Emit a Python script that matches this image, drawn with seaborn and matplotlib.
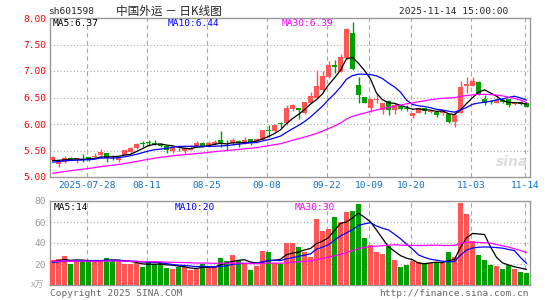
import numpy as np
import pandas as pd
import matplotlib
matplotlib.use("Agg")
import matplotlib.pyplot as plt
import seaborn as sns

# ---- 数据 (从图上读出来的) ----
tick_pos = [6, 16, 26, 36, 46, 53, 60, 70, 79]
tick_labels = ["2025-07-28", "08-11", "08-25", "09-08", "09-22", "10-09", "10-20", "11-03", "11-14"]

opens = [5.32, 5.25, 5.29, 5.36, 5.32, 5.34, 5.37, 5.37, 5.41, 5.45,
         5.36, 5.32, 5.42, 5.48, 5.54, 5.64, 5.66, 5.65, 5.63, 5.59,
         5.50, 5.53, 5.50, 5.51, 5.59, 5.65, 5.59, 5.62, 5.69, 5.60,
         5.64, 5.67, 5.65, 5.71, 5.67, 5.70, 5.88, 5.87, 6.01, 6.01,
         6.28, 6.31, 6.20, 6.39, 6.50, 6.64, 6.89, 7.11, 6.99, 7.24,
         7.71, 6.74, 6.50, 6.30, 6.46, 6.26, 6.43, 6.26, 6.34, 6.31,
         6.15, 6.21, 6.31, 6.22, 6.23, 6.21, 6.18, 6.04, 6.21, 6.72,
         6.72, 6.80, 6.47, 6.43, 6.40, 6.46, 6.47, 6.37, 6.41, 6.39]
closes = [5.38, 5.29, 5.35, 5.34, 5.35, 5.33, 5.33, 5.39, 5.48, 5.36,
          5.35, 5.37, 5.51, 5.55, 5.62, 5.63, 5.65, 5.63, 5.59, 5.51,
          5.56, 5.52, 5.54, 5.54, 5.65, 5.59, 5.64, 5.66, 5.64, 5.59,
          5.69, 5.64, 5.70, 5.65, 5.71, 5.89, 5.87, 5.98, 6.00, 6.30,
          6.36, 6.27, 6.42, 6.53, 6.72, 6.91, 7.11, 7.07, 7.27, 7.80,
          7.03, 6.55, 6.40, 6.47, 6.47, 6.40, 6.26, 6.35, 6.28, 6.29,
          6.21, 6.31, 6.25, 6.25, 6.17, 6.26, 6.04, 6.17, 6.70, 6.75,
          6.82, 6.55, 6.40, 6.41, 6.45, 6.42, 6.35, 6.39, 6.38, 6.33]
highs = [5.40, 5.30, 5.40, 5.38, 5.35, 5.43, 5.38, 5.45, 5.52, 5.46,
         5.41, 5.37, 5.52, 5.57, 5.65, 5.68, 5.70, 5.70, 5.65, 5.60,
         5.56, 5.55, 5.54, 5.60, 5.67, 5.66, 5.67, 5.69, 5.86, 5.70,
         5.73, 5.70, 5.75, 5.71, 5.73, 5.89, 5.98, 6.00, 6.04, 6.36,
         6.38, 6.31, 6.42, 6.61, 7.01, 7.00, 7.18, 7.21, 7.33, 7.81,
         7.93, 6.89, 6.50, 6.47, 6.57, 6.40, 6.45, 6.39, 6.36, 6.35,
         6.21, 6.31, 6.31, 6.27, 6.25, 6.27, 6.18, 6.23, 6.82, 6.89,
         6.89, 6.82, 6.55, 6.46, 6.53, 6.50, 6.48, 6.42, 6.44, 6.40]
lows = [5.31, 5.18, 5.26, 5.32, 5.26, 5.29, 5.31, 5.36, 5.38, 5.29,
        5.32, 5.28, 5.41, 5.46, 5.52, 5.57, 5.58, 5.60, 5.56, 5.46,
        5.45, 5.49, 5.43, 5.51, 5.58, 5.57, 5.56, 5.60, 5.57, 5.51,
        5.61, 5.57, 5.63, 5.60, 5.65, 5.69, 5.76, 5.85, 5.92, 5.99,
        6.25, 6.10, 6.18, 6.39, 6.48, 6.62, 6.87, 6.97, 6.99, 7.22,
        7.02, 6.39, 6.39, 6.23, 6.39, 6.19, 6.17, 6.19, 6.26, 6.25,
        6.12, 6.20, 6.18, 6.20, 6.13, 6.17, 6.01, 5.95, 6.20, 6.58,
        6.71, 6.54, 6.36, 6.38, 6.39, 6.40, 6.33, 6.35, 6.35, 6.32]
# 成交量 (万手)
volumes = [24, 25, 27.5, 20, 23, 23, 23, 22.5, 23.5, 25.5,
           24, 23, 20, 20, 20.5, 17, 21.5, 20, 21, 16.5,
           15.5, 17, 17, 14.5, 15, 20, 18.5, 17, 25.5, 23,
           28.5, 23.5, 20, 14.5, 18, 32.5, 31, 21, 20, 40,
           40, 36, 31, 27, 63, 51.5, 53.5, 65, 60, 70,
           70.5, 77, 45, 38, 31.5, 30, 37.5, 24, 17, 19,
           23, 21.5, 21, 21, 22, 21, 31.5, 26.5, 78, 67.5,
           42, 29, 24, 19, 18, 15.5, 19, 15.5, 12.5, 11.5]

# 图左边之前的行情 (只用来算均线, 估计的)
closes_before = [4.86, 4.88, 4.87, 4.90, 4.89, 4.91, 4.93, 4.92, 4.95, 4.94,
                 4.96, 4.98, 4.99, 5.01, 5.00, 5.03, 5.05, 5.06, 5.10, 5.13,
                 5.18, 5.22, 5.26, 5.30, 5.29, 5.27, 5.30, 5.28, 5.32]
volumes_before = [24, 22, 25, 21, 23, 26, 22, 24, 20, 23, 25, 22, 24, 21, 26,
                  23, 22, 25, 24, 21, 20, 22, 19, 23, 21, 20, 22, 24, 21]

price_ma_text = ["MA5:6.37", "MA10:6.44", "MA30:6.39"]
vol_ma_text = ["MA5:14", "MA10:20", "MA30:30"]

RED = "#ff5555"
GREEN = "#00a000"
GRID = "#aaaaaa"
ma_colors = ["black", "#0000ff", "#ff00ff"]
ma_windows = [5, 10, 30]

sns.set_style("white")
plt.rcParams["font.family"] = ["DejaVu Sans Mono", "Noto Sans CJK SC"]

df = pd.DataFrame({"open": opens, "close": closes, "high": highs, "low": lows, "vol": volumes})
df["x"] = np.arange(len(df))
df["up"] = np.where(df["close"] >= df["open"], "up", "down")
n_before = len(closes_before)
all_close = pd.Series(closes_before + closes)
all_vol = pd.Series(volumes_before + volumes)
for w in ma_windows:
    df[f"ma{w}"] = all_close.rolling(w).mean().iloc[n_before:].values
    df[f"vma{w}"] = all_vol.rolling(w).mean().iloc[n_before:].values

W, H = 545, 300
fig = plt.figure(figsize=(W / 100, H / 100), dpi=100)
ax1 = fig.add_axes([49.5 / W, 123 / H, 480 / W, 159 / H])
ax2 = fig.add_axes([49.5 / W, 15 / H, 480 / W, 84 / H])

# ---- K线 ----
colors = np.where(df["up"] == "up", RED, GREEN)
ax1.vlines(df["x"], df["low"], df["high"], color=colors, linewidth=1, zorder=3)
body_bottom = np.minimum(df["open"], df["close"])
body_h = np.maximum((df["close"] - df["open"]).abs(), 0.015)
ax1.bar(df["x"], body_h, bottom=body_bottom, width=0.8, color=colors, linewidth=0, zorder=3)
for w, c in zip(ma_windows, ma_colors):
    sns.lineplot(data=df, x="x", y=f"ma{w}", color=c, linewidth=0.9, ax=ax1, zorder=4)

# ---- 成交量 ----
sns.barplot(data=df, x="x", y="vol", hue="up", palette={"up": RED, "down": GREEN},
            dodge=False, native_scale=True, width=0.82, errorbar=None, legend=False,
            saturation=1, linewidth=0, ax=ax2, zorder=3)
for w, c in zip(ma_windows, ma_colors):
    sns.lineplot(data=df, x="x", y=f"vma{w}", color=c, linewidth=0.9, ax=ax2, zorder=4)

# 网格和坐标轴
for ax, ylim, hl in [(ax1, (5, 8), [5.5, 6, 6.5, 7, 7.5]), (ax2, (0, 80), [20, 40, 60])]:
    ax.set_xlim(-0.5, 79.5)
    ax.set_ylim(*ylim)
    for yv in hl:
        ax.axhline(yv, color=GRID, linestyle=(0, (1, 2)), linewidth=0.8, zorder=1)
    for t in tick_pos:
        ax.axvline(t - 0.25, color=GRID, linestyle=(0, (4, 3)), linewidth=0.8, zorder=1)
    for s in ax.spines.values():
        s.set_color("#999999")
        s.set_linewidth(1)
    ax.set_xlabel("")
    ax.set_ylabel("")

ax1.set_yticks(np.arange(5, 8.01, 0.5))
ax1.set_yticklabels([f"{v:.2f}" for v in np.arange(5, 8.01, 0.5)])
ax1.tick_params(axis="y", length=0, pad=2.5, labelcolor="red", labelsize=6.8)
ax1.set_xticks([t - 0.25 for t in tick_pos])
ax1.set_xticklabels(tick_labels)
ax1.tick_params(axis="x", length=0, pad=3, labelcolor="#1070c8", labelsize=6.8)

ax2.set_yticks([20, 40, 60, 80])
ax2.set_yticklabels(["20", "40", "60", "80"])
ax2.tick_params(axis="y", length=0, pad=2.5, labelcolor="#999999", labelsize=6.8)
ax2.set_xticks([])


def ftext(x, y, s, **kw):
    fig.text(x / W, 1 - y / H, s, va="center", **kw)


ftext(48, 11, "sh601598", fontsize=6.8)
ftext(116, 11, "中国外运 － 日K线图", fontsize=8.4, family=["Noto Sans CJK SC", "DejaVu Sans"])
ftext(508, 11, "2025-11-14 15:00:00", fontsize=6.8, ha="right")

for x, s, c in zip([53, 168, 282], price_ma_text, ma_colors):
    ftext(x, 23, s, fontsize=6.8, color=c)
for x, s, c in zip([54, 175, 295], vol_ma_text, ma_colors):
    ftext(x, 207, s, fontsize=6.8, color=c)

ftext(44, 285, "x万", fontsize=6.5, ha="right", color="#aaaaaa",
      family=["Noto Sans CJK SC", "DejaVu Sans"])
ftext(50, 293, "Copyright 2025 SINA.COM", fontsize=6.8, color="#666666")
ftext(529, 293, "http://finance.sina.com.cn", fontsize=6.8, ha="right", color="#666666")
ftext(512, 162, "sina", fontsize=10, ha="center", color="#dddddd", style="italic",
      weight="bold", family="DejaVu Sans")

fig.savefig("out.png", dpi=100)
